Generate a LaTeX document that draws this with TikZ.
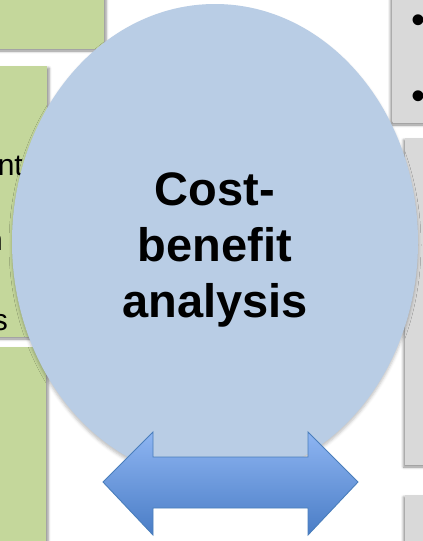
\documentclass[tikz,border=0pt]{standalone}
\usepackage{fontspec}
\setmainfont{Liberation Sans}
\usetikzlibrary{shapes.geometric,shadows.blur,positioning}
\definecolor{leaf}{HTML}{C4D79B}
\definecolor{sky}{HTML}{B9CDE5}
\definecolor{ash}{HTML}{D9D9D9}
\definecolor{arrtop}{HTML}{8EB5F2}
\definecolor{arrbot}{HTML}{4A7DC6}
\definecolor{arrline}{HTML}{4A7EBB}
\tikzstyle{G} = [fill=leaf,
			blur shadow={shadow xshift=2pt, shadow yshift=-2pt,
			shadow blur radius=2.5pt, shadow opacity=45}]
\tikzstyle{H} = [fill=ash,
			blur shadow={shadow xshift=-1.5pt, shadow yshift=-2pt,
			shadow blur radius=2.5pt, shadow opacity=45}]
\tikzstyle{E} = [ellipse, fill=sky,
			minimum width=406pt, minimum height=476pt, inner sep=0pt,
			blur shadow={shadow xshift=0pt, shadow yshift=-3pt,
			shadow blur radius=3pt, shadow opacity=25}]
\tikzstyle{T} = [align=center, inner sep=0pt,
			font=\fontsize{47}{56}\selectfont\bfseries]
\tikzstyle{S} = [anchor=base east, inner sep=0pt,
			font=\fontsize{30}{36}\selectfont]
\tikzstyle{B} = [anchor=base, inner sep=0pt,
			font=\fontsize{40}{48}\selectfont]
\tikzstyle{A} = [draw=arrline, line width=0.9pt, line join=miter,
			top color=arrtop, bottom color=arrbot]

\begin{document}
\begin{tikzpicture}[x=1pt, y=-1pt]

\useasboundingbox (0,0) rectangle (423,541);
\clip (0,0) rectangle (423,541);

% boxes behind
\path[G] (-20,-20) rectangle (104,49);
\path[G] (-20,66) rectangle (47,337);
\path[G] (-20,347) rectangle (46,570);

\path[H] (392,-20) rectangle (450,123);
\path[H] (405,138) rectangle (450,465);
\path[H] (405,495) rectangle (450,570);

\node [S] at (23,175)
(frag1)
	{nt};

\node [S] at (3,250)
(frag2)
	{n};

\node [S] at (8,330)
(frag3)
	{s};

\node [B] at (418,33)
(dot1)
	{•};

\node [B] at (418,109)
(dot2)
	{•};

% circle
\node [E] at (215,242)
(cba)
	{};

\node [T] at ([yshift=-8pt]cba.center)
(cbatext)
	{Cost-\\benefit\\analysis};

% double arrow
\shade[A] (103,482) -- (153,432) -- (153,457) -- (308,457) -- (308,432)
	-- (358,482) -- (308,535) -- (308,508) -- (153,508) -- (153,535) -- cycle;

\end{tikzpicture}
\end{document}
